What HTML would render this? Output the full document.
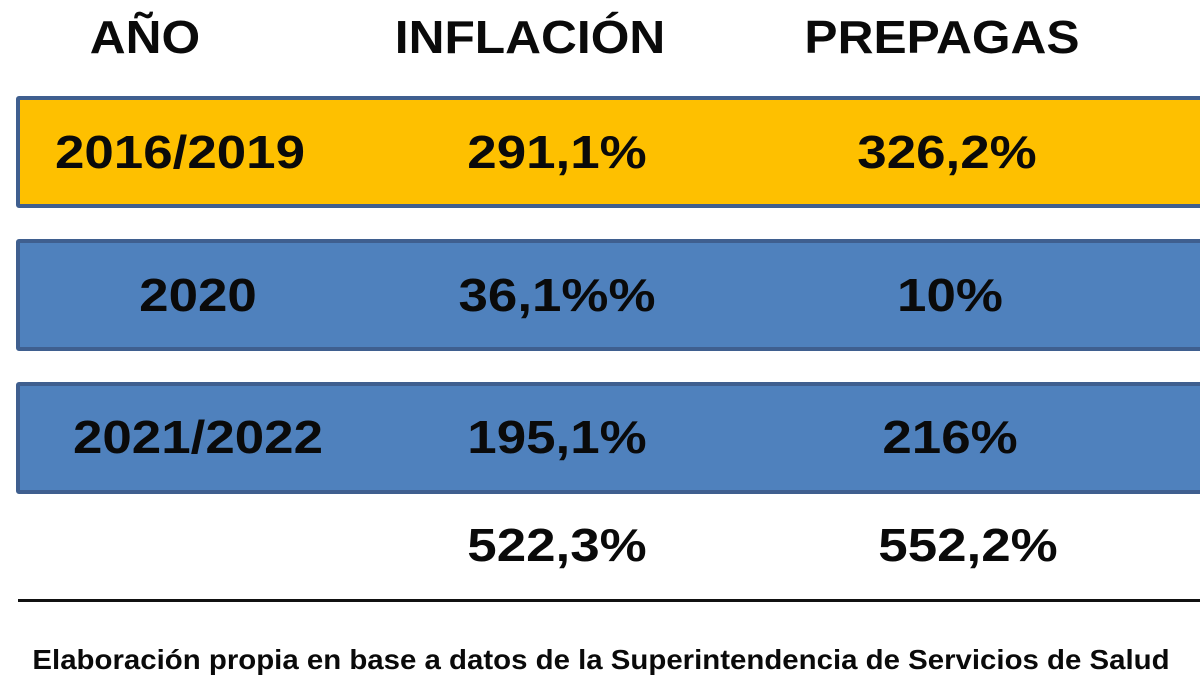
<!DOCTYPE html>
<html><head><meta charset="utf-8"><style>
body{margin:0;width:1200px;height:675px;background:#fff;position:relative;overflow:hidden;font-family:"Liberation Sans",sans-serif;font-weight:bold;color:#0a0a0a}
.t{position:absolute;transform:translate(-50%,-50%) scaleX(1.15);white-space:nowrap;font-size:46px;line-height:1}
.h{transform:translate(-50%,-50%) scaleX(1.08)}
.box{position:absolute;left:16px;width:1200px;height:104px;border:4px solid #3f5f8f;border-radius:3px;box-sizing:content-box}
</style></head><body>
<div class="t h" style="left:145px;top:37px">AÑO</div>
<div class="t h" style="left:530px;top:37px">INFLACIÓN</div>
<div class="t h" style="left:942px;top:37px">PREPAGAS</div>
<div class="box" style="top:96px;background:#fec000"></div>
<div class="box" style="top:239px;background:#4f81bd"></div>
<div class="box" style="top:382px;background:#4f81bd"></div>
<div class="t" style="left:180px;top:152px">2016/2019</div>
<div class="t" style="left:557px;top:152px">291,1%</div>
<div class="t" style="left:947px;top:152px">326,2%</div>
<div class="t" style="left:198px;top:295px">2020</div>
<div class="t" style="left:557px;top:295px">36,1%%</div>
<div class="t" style="left:950px;top:295px">10%</div>
<div class="t" style="left:198px;top:437px">2021/2022</div>
<div class="t" style="left:557px;top:437px">195,1%</div>
<div class="t" style="left:950px;top:437px">216%</div>
<div class="t" style="left:557px;top:545px">522,3%</div>
<div class="t" style="left:968px;top:545px">552,2%</div>
<div style="position:absolute;left:18px;top:599px;width:1182px;height:3px;background:#111"></div>
<div class="t" style="left:601px;top:660px;font-size:28px;transform:translate(-50%,-50%) scaleX(1.05)">Elaboración propia en base a datos de la Superintendencia de Servicios de Salud</div>
</body></html>
